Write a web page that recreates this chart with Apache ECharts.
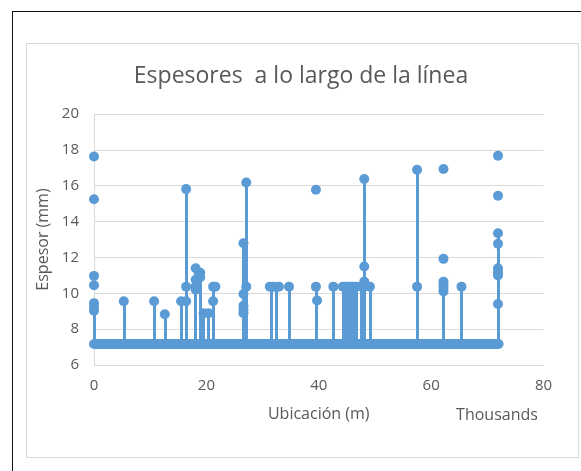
<!DOCTYPE html>
<html>
<head>
<meta charset="utf-8">
<script src="https://cdn.jsdelivr.net/npm/echarts@6/dist/echarts.min.js"></script>
<style>
  body { margin: 0; background: #fff; overflow: hidden; }
  #frame { position: absolute; left: 12px; top: 11px; width: 620px; height: 520px; border-top: 1.5px solid #111; border-left: 1.5px solid #111; }
  #box { position: absolute; left: 26px; top: 43px; width: 551px; height: 413px; border: 1px solid #d9d9d9; }
  #chart { position: absolute; left: 0; top: 0; width: 581px; height: 471px; }
</style>
</head>
<body>
<div id="frame"></div>
<div id="box"></div>
<div id="chart"></div>
<script>
// nominal thickness line that runs along the whole pipe
var baseValue = 7.17;
var baseX = [0, 72];

// drop lines: location (thousands of m) and the top of the line
var stemX =   [0,    5.3,  10.7, 12.6, 15.5, 16.4,  18.1, 18.9,  19.5, 20.4, 21.2,  26.6,  27.1,  31.5,  32.5,  34.7,  39.5,  42.6,
               44.3,  44.7,  45.1,  45.5,  45.9,  46.3,  46.7,  47.6,  48.1,  49.1,  57.5,  62.2,  65.4,  71.9];
var stemTop = [9.45, 9.56, 9.56, 8.83, 9.56, 15.81, 11.4, 11.15, 8.89, 8.89, 10.37, 12.79, 16.18, 10.37, 10.37, 10.37, 10.37, 10.37,
               10.37, 10.37, 10.37, 10.37, 10.37, 10.37, 10.37, 10.37, 16.37, 10.37, 16.89, 10.65, 10.37, 13.35];

// measured points
var pointX = [0, 0, 0, 0, 0, 0, 0,
              5.3, 10.7, 12.6, 15.5,
              16.4, 16.4, 16.4,
              18.1, 18.1, 18.1, 18.1, 18.9, 18.9,
              19.5, 20.4, 21.2, 21.2, 21.6,
              26.6, 26.6, 26.6, 26.6, 26.6, 27.1, 27.1,
              31.3, 32.0, 32.9, 34.7,
              39.5, 39.5, 39.7, 42.6,
              44.3, 44.7, 45.1, 45.5, 45.9, 46.3, 46.7, 47.6,
              48.1, 48.1, 48.1, 48.1, 49.1,
              57.5, 57.5,
              62.2, 62.2, 62.2, 62.2, 62.2, 62.2, 65.4,
              71.9, 71.9, 71.9, 71.9, 71.9, 71.9, 71.9, 71.9];
var pointY = [17.63, 15.25, 10.97, 10.45, 9.45, 9.2, 9.03,
              9.56, 9.56, 8.83, 9.56,
              15.81, 10.37, 9.56,
              11.4, 10.75, 10.37, 10.2, 11.15, 10.9,
              8.89, 8.89, 10.37, 9.56, 10.37,
              12.79, 9.96, 9.31, 9.1, 8.89, 16.18, 10.37,
              10.37, 10.37, 10.37, 10.37,
              15.77, 10.37, 9.6, 10.37,
              10.37, 10.37, 10.37, 10.37, 10.37, 10.37, 10.37, 10.37,
              16.37, 11.49, 10.65, 10.37, 10.37,
              16.89, 10.37,
              16.93, 11.92, 10.65, 10.47, 10.3, 10.1, 10.37,
              17.67, 15.44, 13.35, 12.76, 11.4, 11.17, 11.0, 9.4];

var xTicks = { min: 0, max: 80, step: 20 };
var yTicks = { min: 6, max: 20, step: 2 };

var blue = '#5B9BD5';
var grey = '#595959';
var font = 'Open Sans';

var chart = echarts.init(document.getElementById('chart'));

var stems = stemX.map(function (x, i) {
  return { coords: [[x, baseValue], [x, stemTop[i]]] };
});
var points = pointX.map(function (x, i) {
  return [x, pointY[i]];
});
var baseLine = baseX.map(function (x) {
  return [x, baseValue];
});

var option = {
  animation: false,
  backgroundColor: 'transparent',
  graphic: [
    {
      type: 'text',
      x: 301,
      y: 76,
      style: {
        text: 'Espesores  a lo largo de la línea',
        fill: grey,
        font: '23px "Open Sans"',
        textAlign: 'center',
        textVerticalAlign: 'middle'
      }
    },
    {
      type: 'text',
      x: 497,
      y: 415,
      style: {
        text: 'Thousands',
        fill: grey,
        font: '16px "Open Sans"',
        textAlign: 'center',
        textVerticalAlign: 'middle'
      }
    }
  ],
  grid: {
    left: 94,
    right: 37.5,
    top: 114,
    bottom: 106
  },
  xAxis: {
    type: 'value',
    min: xTicks.min,
    max: xTicks.max,
    interval: xTicks.step,
    name: 'Ubicación (m)',
    nameLocation: 'middle',
    nameGap: 41,
    nameTextStyle: { color: grey, fontSize: 16, fontFamily: font },
    axisLine: { show: false },
    axisTick: { show: false },
    splitLine: { show: false },
    axisLabel: { color: grey, fontSize: 15, fontFamily: font, margin: 13 }
  },
  yAxis: {
    type: 'value',
    min: yTicks.min,
    max: yTicks.max,
    interval: yTicks.step,
    name: 'Espesor (mm)',
    nameLocation: 'middle',
    nameGap: 41,
    nameTextStyle: { color: grey, fontSize: 16, fontFamily: font },
    axisLine: { show: true, lineStyle: { color: '#d9d9d9', width: 1 } },
    axisTick: { show: false },
    splitLine: { show: true, lineStyle: { color: '#d9d9d9', width: 1 } },
    axisLabel: { color: grey, fontSize: 15, fontFamily: font, margin: 15 }
  },
  series: [
    {
      type: 'lines',
      coordinateSystem: 'cartesian2d',
      silent: true,
      lineStyle: { color: blue, width: 3, opacity: 1 },
      data: stems
    },
    {
      type: 'line',
      silent: true,
      symbol: 'none',
      lineStyle: { color: blue, width: 10, cap: 'round' },
      data: baseLine
    },
    {
      type: 'scatter',
      silent: true,
      symbolSize: 10,
      itemStyle: { color: blue, opacity: 1 },
      data: points
    }
  ]
};

chart.setOption(option);
</script>
</body>
</html>
